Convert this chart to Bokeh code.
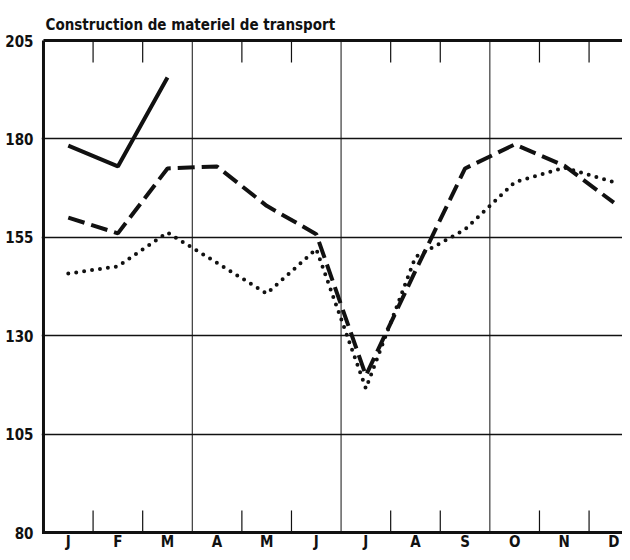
from bokeh.plotting import figure
from bokeh.models import FixedTicker, Range1d, Title
from bokeh.core.properties import value
from bokeh.embed import file_html
from bokeh.resources import INLINE

months = ["J", "F", "M", "A", "M", "J", "J", "A", "S", "O", "N", "D"]
y_ticks = [80, 105, 130, 155, 180, 205]
solid = [178.3, 173.0, 195.6]
dashed = [160.0, 156.0, 172.5, 173.0, 163.0, 155.8, 119.9, 146.5, 172.5, 178.6, 173.2, 163.8]
dotted = [145.8, 147.6, 156.2, 148.5, 140.7, 152.0, 116.6, 150.0, 157.0, 169.0, 172.7, 169.0]

x = [i + 0.5 for i in range(len(months))]
n = len(months)
ymin, ymax = y_ticks[0], y_ticks[-1]
FONT = "DejaVu Sans Condensed"
INK = "#111111"

p = figure(width=622, height=552, output_backend="svg", toolbar_location=None,
           x_range=Range1d(-0.04, 11.674), y_range=Range1d(74.92, 205.51),
           min_border_left=41, min_border_right=0, min_border_top=38, min_border_bottom=0)
p.outline_line_color = None
p.background_fill_color = "white"
p.border_fill_color = "white"

p.title = Title(text="Construction de materiel de transport", text_font=FONT,
                text_font_size="15px", text_font_style="bold", text_color=INK,
                align="left", offset=4, standoff=10)

# y axis (labels only; border drawn below)
p.yaxis.ticker = FixedTicker(ticks=y_ticks)
p.yaxis.axis_line_color = None
p.yaxis.major_tick_line_color = None
p.yaxis.minor_tick_line_color = None
p.yaxis.major_tick_out = 0
p.yaxis.major_label_standoff = 8
p.yaxis.major_label_text_font = FONT
p.yaxis.major_label_text_font_style = "bold"
p.yaxis.major_label_text_font_size = "15px"
p.yaxis.major_label_text_color = INK
p.xaxis.visible = False

# horizontal grid
p.ygrid.ticker = FixedTicker(ticks=y_ticks[1:-1])
p.ygrid.grid_line_color = INK
p.ygrid.grid_line_width = 1.5
p.xgrid.visible = False

# vertical quarter lines and short boundary ticks
quarters = [3, 6, 9]
p.segment(x0=quarters, x1=quarters, y0=[ymin] * 3, y1=[ymax] * 3,
          line_color=INK, line_width=1)
bounds = [b for b in range(1, 12) if b % 3 != 0]
p.segment(x0=bounds, x1=bounds, y0=[ymax] * len(bounds), y1=[ymax - 5.6] * len(bounds),
          line_color=INK, line_width=1.2)
p.segment(x0=bounds, x1=bounds, y0=[ymin] * len(bounds), y1=[ymin + 5.6] * len(bounds),
          line_color=INK, line_width=1.2)

# frame: left, top, bottom
p.segment(x0=[0, 0, 0], x1=[0, n, n], y0=[ymin - 0.4, ymax, ymin], y1=[ymax, ymax, ymin],
          line_color=INK, line_width=3)

# month labels under the bottom line
p.text(x=x, y=[ymin - 2.45] * n, text=months, text_align="center", text_baseline="middle",
       text_font=value(FONT), text_font_style="bold", text_font_size="15px", text_color=INK)

# series
p.line(x, dotted, line_color=INK, line_width=4, line_dash="0 8", line_cap="round")
p.line(x, dashed, line_color=INK, line_width=4, line_dash="17 7")
p.line(x[:len(solid)], solid, line_color=INK, line_width=4)

open("out.html", "w").write(file_html(p, INLINE))
